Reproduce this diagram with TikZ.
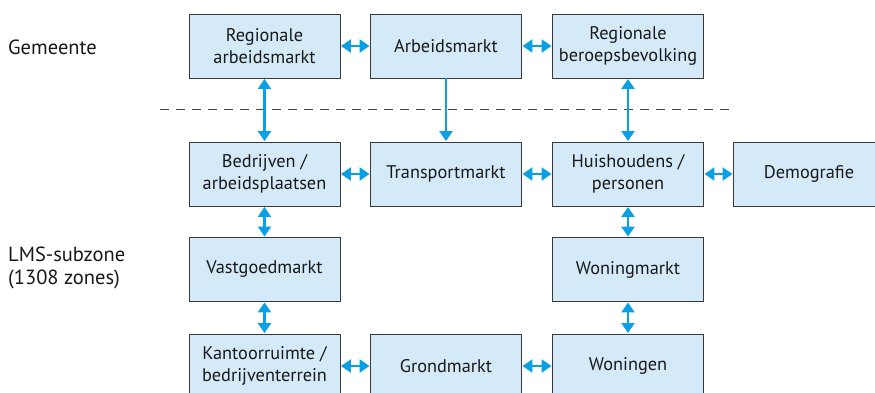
\documentclass[tikz,border=0pt]{standalone}
\usepackage{fontspec}
\setmainfont{PT Sans}
\usetikzlibrary{arrows.meta}
\definecolor{boxfill}{HTML}{D4EAF9}
\definecolor{boxline}{HTML}{3A3A3A}
\definecolor{arr}{HTML}{0AA0E6}
\definecolor{dashgray}{HTML}{444444}
\tikzset{
  box/.style={draw=boxline, line width=0.9pt, fill=boxfill, minimum width=151pt, minimum height=64pt,
    inner sep=0pt, align=center, font=\fontsize{18.3}{22}\selectfont, text=black!90},
  bi/.style={draw=arr, line width=2.3pt, {Triangle[width=13pt,length=10pt]}-{Triangle[width=13pt,length=10pt]}, shorten <=0.5pt, shorten >=0.5pt},
  uni/.style={draw=arr, line width=2.3pt, -{Triangle[width=13pt,length=10pt]}, shorten >=0.5pt},
  lbl/.style={anchor=west, inner sep=0pt, align=left, font=\fontsize{20.5}{23}\selectfont, text=black!90},
  divider/.style={draw=dashgray, line width=1.3pt, dash pattern=on 9pt off 7pt}
}
\begin{document}
\begin{tikzpicture}[x=1pt,y=-1pt]
\useasboundingbox (0,0) rectangle (875,392);
\clip (0,0) rectangle (875,392);
% row 1
\node[box] (ra) at (264.5,46) {Regionale\\arbeidsmarkt};
\node[box] (am) at (446,46) {Arbeidsmarkt};
\node[box] (rb) at (628,46) {Regionale\\beroepsbevolking};
% row 2
\node[box] (ba) at (264.5,174) {Bedrijven /\\arbeidsplaatsen};
\node[box] (tm) at (446,174) {Transportmarkt};
\node[box] (hp) at (628,174) {Huishoudens /\\personen};
\node[box] (dm) at (809,174) {Demografie};
% row 3
\node[box] (vg) at (264.5,269.5) {Vastgoedmarkt};
\node[box] (wm) at (628,269.5) {Woningmarkt};
% row 4
\node[box] (kb) at (264.5,366) {Kantoorruimte /\\bedrijventerrein};
\node[box] (gm) at (446,366) {Grondmarkt};
\node[box] (wo) at (628,366) {Woningen};
% labels
\node[lbl] (gem) at (8,47) {Gemeente};
\node[lbl] (lms) at (8,268) {LMS-subzone\\(1308 zones)};
% dashed line
\coordinate (d1) at (160,109.5);
\coordinate (d2) at (735,109.5);
\draw[divider] (d1) -- (d2);
% arrows
\draw[bi] (ra) -- (am);
\draw[bi] (am) -- (rb);
\draw[bi] (ba) -- (tm);
\draw[bi] (tm) -- (hp);
\draw[bi] (hp) -- (dm);
\draw[bi] (kb) -- (gm);
\draw[bi] (gm) -- (wo);
\draw[bi] (ra) -- (ba);
\draw[uni] (am) -- (tm);
\draw[bi] (rb) -- (hp);
\draw[bi] (ba) -- (vg);
\draw[bi] (hp) -- (wm);
\draw[bi] (vg) -- (kb);
\draw[bi] (wm) -- (wo);
\end{tikzpicture}
\end{document}
